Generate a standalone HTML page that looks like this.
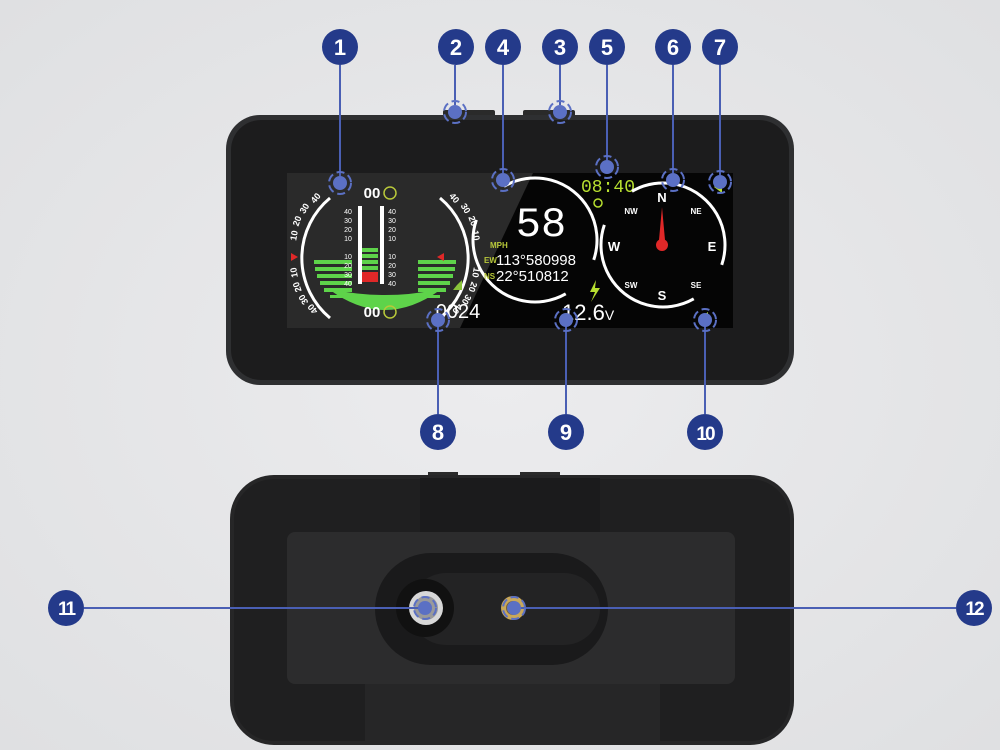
<!DOCTYPE html>
<html><head><meta charset="utf-8"><style>
html,body{margin:0;padding:0;background:#e6e7e9;}
svg{display:block;font-family:"Liberation Sans",sans-serif;}
</style></head><body>
<svg width="1000" height="750" viewBox="0 0 1000 750" xmlns="http://www.w3.org/2000/svg">
<defs>
<g id="tg"><circle r="7" fill="#5b70c4"/><circle r="11" fill="none" stroke="#5b70c4" stroke-width="2" stroke-dasharray="8 4"/></g>
<radialGradient id="bg" cx="50%" cy="50%" r="70%"><stop offset="0" stop-color="#ececee"/><stop offset="1" stop-color="#dfe0e2"/></radialGradient>
</defs>
<rect width="1000" height="750" fill="url(#bg)"/>

<rect x="443" y="110" width="52" height="8" rx="2" fill="#2a2a2a"/>
<rect x="523" y="110" width="52" height="8" rx="2" fill="#2a2a2a"/>
<rect x="226" y="115" width="568" height="270" rx="34" fill="#2e2f31"/>
<rect x="231" y="120" width="558" height="260" rx="30" fill="#1c1c1d"/>
<rect x="287" y="173" width="446" height="155" fill="#2a2a2a"/>
<polygon points="533,173 733,173 733,328 460,328" fill="#050505"/>

<!-- left inclinometer -->
<g stroke="#fff" fill="none">
<path d="M330,198 A78,78 0 0 0 330,318" stroke-width="3"/>
<path d="M440,198 A78,78 0 0 1 440,318" stroke-width="3"/>
</g>
<g fill="#5ed34a">
<rect x="314" y="260" width="38" height="4"/><rect x="315" y="267" width="37" height="4"/><rect x="317" y="274" width="35" height="4"/><rect x="320" y="281" width="32" height="4"/><rect x="324" y="288" width="28" height="4"/><rect x="330" y="295" width="22" height="3"/>
<rect x="418" y="260" width="38" height="4"/><rect x="418" y="267" width="37" height="4"/><rect x="418" y="274" width="35" height="4"/><rect x="418" y="281" width="32" height="4"/><rect x="418" y="288" width="28" height="4"/><rect x="418" y="295" width="22" height="3"/>
<path d="M330,290 Q385,330 440,290 L436,290 Q385,300 334,290 Z"/>
<path d="M335,292 Q385,322 435,292 L425,292 Q385,300 345,292 Z"/>
</g>
<rect x="356" y="205" width="58" height="88" rx="4" fill="#2a2a2a"/>
<g fill="#5ed34a"><rect x="362" y="248" width="16" height="4"/><rect x="362" y="254" width="16" height="4"/><rect x="362" y="260" width="16" height="4"/><rect x="362" y="266" width="16" height="4"/></g>
<rect x="362" y="272" width="16" height="10" fill="#e02828"/>
<rect x="358" y="206" width="4" height="78" fill="#fff"/><rect x="380" y="206" width="4" height="78" fill="#fff"/>
<g fill="#fff" font-size="7" text-anchor="middle">
<text x="348" y="214">40</text><text x="348" y="223">30</text><text x="348" y="232">20</text><text x="348" y="241">10</text><text x="348" y="259">10</text><text x="348" y="268">20</text><text x="348" y="277">30</text><text x="348" y="286">40</text>
<text x="392" y="214">40</text><text x="392" y="223">30</text><text x="392" y="232">20</text><text x="392" y="241">10</text><text x="392" y="259">10</text><text x="392" y="268">20</text><text x="392" y="277">30</text><text x="392" y="286">40</text>
</g>
<g fill="#fff" font-size="9" font-weight="bold" text-anchor="middle">
<text x="318" y="200" transform="rotate(-50 318 200)">40</text><text x="307" y="210" transform="rotate(-58 307 210)">30</text><text x="300" y="222" transform="rotate(-70 300 222)">20</text><text x="297" y="236" transform="rotate(-80 297 236)">10</text>
<text x="297" y="272" transform="rotate(-100 297 272)">10</text><text x="300" y="286" transform="rotate(-110 300 286)">20</text><text x="306" y="298" transform="rotate(-122 306 298)">30</text><text x="315" y="307" transform="rotate(-130 315 307)">40</text>
<text x="452" y="200" transform="rotate(50 452 200)">40</text><text x="463" y="210" transform="rotate(58 463 210)">30</text><text x="470" y="222" transform="rotate(70 470 222)">20</text><text x="473" y="236" transform="rotate(80 473 236)">10</text>
<text x="473" y="272" transform="rotate(100 473 272)">10</text><text x="470" y="286" transform="rotate(110 470 286)">20</text><text x="464" y="298" transform="rotate(122 464 298)">30</text><text x="455" y="307" transform="rotate(130 455 307)">40</text>
</g>
<polygon points="290,254 298,254 294,261" fill="#e02828" transform="rotate(-90 294 257)"/>
<polygon points="437,254 445,254 441,261" fill="#e02828" transform="rotate(90 441 257)"/>
<text x="372" y="198" fill="#fff" font-size="15" font-weight="bold" text-anchor="middle">00</text>
<circle cx="390" cy="193" r="6" fill="none" stroke="#b8c83a" stroke-width="1.5"/>
<text x="372" y="317" fill="#fff" font-size="15" font-weight="bold" text-anchor="middle">00</text>
<circle cx="390" cy="312" r="6" fill="none" stroke="#b8c83a" stroke-width="1.5"/>
<text x="458" y="318" fill="#fff" font-size="20" text-anchor="middle">0024</text>
<polygon points="453,290 462,290 462,280 457,285" fill="#8ac43a"/>

<!-- speedometer -->
<circle cx="535" cy="240" r="62" fill="none" stroke="#fff" stroke-width="3" stroke-dasharray="150 45 150 45" transform="rotate(-120 535 240)"/>
<text x="541" y="236" fill="#fff" font-size="42" text-anchor="middle" font-family="Liberation Mono,monospace">58</text>
<text x="490" y="248" fill="#b8c83a" font-size="8" font-weight="bold">MPH</text>
<text x="484" y="263" fill="#b8c83a" font-size="8" font-weight="bold">EW</text>
<text x="484" y="279" fill="#b8c83a" font-size="8" font-weight="bold">NS</text>
<text x="496" y="265" fill="#fff" font-size="15">113°580998</text>
<text x="496" y="281" fill="#fff" font-size="15">22°510812</text>
<text x="608" y="192" fill="#b8e030" font-size="18" font-family="Liberation Mono,monospace" text-anchor="middle">08:40</text>
<circle cx="598" cy="203" r="4" fill="none" stroke="#b8e030" stroke-width="1.5"/>
<polygon points="596,280 590,292 595,292 591,302 600,288 595,288" fill="#b8e030"/>
<text x="562" y="320" fill="#fff" font-size="22">12.6<tspan font-size="14">V</tspan></text>

<!-- compass -->
<circle cx="663" cy="245" r="62" fill="none" stroke="#fff" stroke-width="3" stroke-dasharray="150 45 150 45" transform="rotate(-120 663 245)"/>
<g fill="#fff" font-weight="bold" text-anchor="middle">
<text x="662" y="202" font-size="13">N</text><text x="662" y="300" font-size="13">S</text>
<text x="614" y="251" font-size="13">W</text><text x="712" y="251" font-size="13">E</text>
<text x="631" y="214" font-size="8">NW</text><text x="696" y="214" font-size="8">NE</text>
<text x="631" y="288" font-size="8">SW</text><text x="696" y="288" font-size="8">SE</text>
</g>
<polygon points="662,207 659,240 665,240" fill="#e02828"/><circle cx="662" cy="245" r="6" fill="#e02828"/>
<polygon points="714,187 722,181 722,193" fill="#b8e030"/>
<polygon points="700,318 708,312 708,324 700,320" fill="#b8e030"/>

<!-- bottom device -->
<rect x="428" y="472" width="30" height="6" fill="#2a2a2a"/><rect x="520" y="472" width="40" height="6" fill="#2a2a2a"/>
<rect x="230" y="475" width="564" height="270" rx="44" fill="#262627"/>
<rect x="234" y="479" width="556" height="262" rx="40" fill="#1f1f20"/>
<rect x="420" y="478" width="180" height="58" fill="#1b1b1c"/>
<rect x="287" y="532" width="448" height="152" rx="8" fill="#2c2c2d"/>
<rect x="365" y="684" width="295" height="57" fill="#262627"/>
<rect x="375" y="553" width="233" height="112" rx="56" fill="#1a1a1b"/>
<rect x="410" y="573" width="190" height="72" rx="36" fill="#232324"/>
<circle cx="425" cy="608" r="29" fill="#111"/>
<circle cx="426" cy="608" r="17" fill="#d8d8d8"/>
<circle cx="426" cy="608" r="12" fill="#9a9a9a"/>
<circle cx="513" cy="608" r="12" fill="#c9a85a"/>
<circle cx="513" cy="608" r="7" fill="#7a6030"/>

<g stroke="#4a5fb4" stroke-width="2">
<line x1="340" y1="65" x2="340" y2="176"/><line x1="455" y1="65" x2="455" y2="105"/>
<line x1="503" y1="65" x2="503" y2="173"/><line x1="560" y1="65" x2="560" y2="105"/>
<line x1="607" y1="65" x2="607" y2="160"/><line x1="673" y1="65" x2="673" y2="173"/>
<line x1="720" y1="65" x2="720" y2="175"/>
<line x1="438" y1="325" x2="438" y2="414"/><line x1="566" y1="325" x2="566" y2="414"/><line x1="705" y1="325" x2="705" y2="414"/>
<line x1="84" y1="608" x2="425" y2="608"/><line x1="515" y1="608" x2="956" y2="608"/>
</g>
<g>
<use href="#tg" x="340" y="183"/><use href="#tg" x="455" y="112"/><use href="#tg" x="503" y="180"/><use href="#tg" x="560" y="112"/>
<use href="#tg" x="607" y="167"/><use href="#tg" x="673" y="180"/><use href="#tg" x="720" y="182"/>
<use href="#tg" x="438" y="320"/><use href="#tg" x="566" y="320"/><use href="#tg" x="705" y="320"/>
<use href="#tg" x="425" y="608"/><use href="#tg" x="514" y="608"/>
</g>

<g font-weight="bold" font-size="22" fill="#fff" text-anchor="middle">
<circle cx="340" cy="47" r="18" fill="#243a8a"/><text x="340" y="55">1</text>
<circle cx="456" cy="47" r="18" fill="#243a8a"/><text x="456" y="55">2</text>
<circle cx="503" cy="47" r="18" fill="#243a8a"/><text x="503" y="55">4</text>
<circle cx="560" cy="47" r="18" fill="#243a8a"/><text x="560" y="55">3</text>
<circle cx="607" cy="47" r="18" fill="#243a8a"/><text x="607" y="55">5</text>
<circle cx="673" cy="47" r="18" fill="#243a8a"/><text x="673" y="55">6</text>
<circle cx="720" cy="47" r="18" fill="#243a8a"/><text x="720" y="55">7</text>
<circle cx="438" cy="432" r="18" fill="#243a8a"/><text x="438" y="440">8</text>
<circle cx="566" cy="432" r="18" fill="#243a8a"/><text x="566" y="440">9</text>
<circle cx="705" cy="432" r="18" fill="#243a8a"/><text x="705" y="440" font-size="19" letter-spacing="-2">10</text>
<circle cx="66" cy="608" r="18" fill="#243a8a"/><text x="66" y="615" font-size="19" letter-spacing="-2">11</text>
<circle cx="974" cy="608" r="18" fill="#243a8a"/><text x="974" y="615" font-size="19" letter-spacing="-2">12</text>
</g>
</svg>
</body></html>
